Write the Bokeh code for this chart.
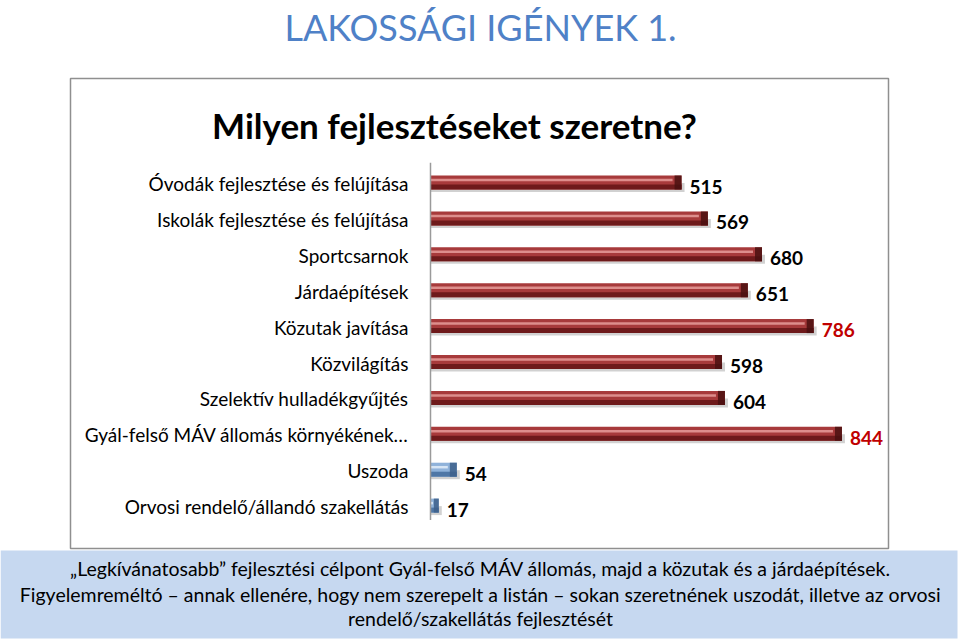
from bokeh.plotting import figure
from bokeh.models import Range1d, ColumnDataSource
from bokeh.embed import file_html
from bokeh.resources import INLINE
from bokeh.core.properties import value

# ---------------- data ----------------
categories = [
    "Óvodák fejlesztése és felújítása",
    "Iskolák fejlesztése és felújítása",
    "Sportcsarnok",
    "Járdaépítések",
    "Közutak javítása",
    "Közvilágítás",
    "Szelektív hulladékgyűjtés",
    "Gyál-felső MÁV állomás környékének…",
    "Uszoda",
    "Orvosi rendelő/állandó szakellátás",
]
values = [515, 569, 680, 651, 786, 598, 604, 844, 54, 17]
groups = ["lista", "lista", "lista", "lista", "lista", "lista", "lista", "lista", "egyéb", "egyéb"]
top_picks = ["Közutak javítása", "Gyál-felső MÁV állomás környékének…"]

page_title = "LAKOSSÁGI IGÉNYEK 1."
chart_title = "Milyen fejlesztéseket szeretne?"
note_lines = [
    "„Legkívánatosabb” fejlesztési célpont Gyál-felső MÁV állomás, majd a közutak és a járdaépítések.",
    "Figyelemreméltó – annak ellenére, hogy nem szerepelt a listán – sokan szeretnének uszodát, illetve az orvosi",
    "rendelő/szakellátás fejlesztését",
]

# ---------------- layout constants ----------------
W, H = 960, 640
X0, KX = 430.0, 0.4875   # pixel of value 0, pixels per unit
Y0, KY = 182.0, 35.9     # pixel of first category, pixels per category


def X(px):
    return (px - X0) / KX


def Y(py):
    return (py - Y0) / KY


PX = 1.0 / KX  # one pixel in x data units
PY = 1.0 / KY  # one pixel in y data units

p = figure(width=W, height=H, output_backend="svg", toolbar_location=None,
           x_axis_type=None, y_axis_type=None,
           x_range=Range1d(X(0), X(W)), y_range=Range1d(Y(H), Y(0)),
           min_border=0)
p.outline_line_color = None
p.background_fill_color = "white"
p.border_fill_color = "white"
p.grid.visible = False

FONT = value("Lato")

# chart box
p.quad(left=[X(70)], right=[X(888)], top=[Y(78)], bottom=[Y(548)],
       fill_color="white", line_color="#8f8f8f", line_width=1.5)
# bottom note box
p.quad(left=[X(0)], right=[X(957)], top=[Y(550)], bottom=[Y(638)],
       fill_color="#c6d8f0", line_color=None)

# titles
p.text(x=[X(480)], y=[Y(26)], text=[page_title], text_font=FONT,
       text_font_size="36px", text_color="#4f81c7", text_align="center",
       text_baseline="middle")
p.text(x=[X(454)], y=[Y(124)], text=[chart_title], text_font=FONT,
       text_font_style="bold", text_font_size="35px", text_color="black",
       text_align="center", text_baseline="middle")

# bars
idx = list(range(len(categories)))
is_main = [g == "lista" for g in groups]
body = ["#a73a3b" if m else "#8fb2da" for m in is_main]
dark = ["#6e1a1b" if m else "#4f77a6" for m in is_main]
light = ["#dd8e8c" if m else "#d6e5f5" for m in is_main]
cap = ["#4a1010" if m else "#3d5f8a" for m in is_main]
lbl_color = ["#c00000" if c in top_picks else "black" for c in categories]
vlabels = [str(v) for v in values]
cap_left = [max(v - 7 * PX, v * 0.4) for v in values]
hl_right = [max(v - 9 * PX, v * 0.3) for v in values]

src = ColumnDataSource(dict(
    y=idx, v=values, cat=categories, body=body, dark=dark, light=light,
    cap=cap, lbl=vlabels, lblc=lbl_color, capl=cap_left, hlr=hl_right,
    ysh=[i + 5 * PY for i in idx], ydk=[i + 4.5 * PY for i in idx],
    yhl=[i - 2.5 * PY for i in idx], vsh=[v + 3 * PX for v in values],
))

# shadow
p.hbar(y="ysh", left=0, right="vsh", height=9 * PY, source=src,
       fill_color="#000000", fill_alpha=0.18, line_color=None)
# body
p.hbar(y="y", left=0, right="v", height=14 * PY, source=src,
       fill_color="body", line_color=None)
# darker lower edge
p.hbar(y="ydk", left=0, right="v", height=5 * PY, source=src,
       fill_color="dark", line_color=None)
# highlight stripe
p.hbar(y="yhl", left=0, right="hlr", height=2.5 * PY, source=src,
       fill_color="light", line_color=None)
# end cap
p.hbar(y="y", left="capl", right="v", height=14 * PY, source=src,
       fill_color="cap", fill_alpha=0.85, line_color=None)

# axis line
p.segment(x0=[0], y0=[-0.55], x1=[0], y1=[len(categories) - 0.6],
          line_color="#9a9a9a", line_width=1.5)

# category labels
p.text(x=0, y="y", text="cat", source=src, x_offset=-22, y_offset=1,
       text_font=FONT, text_font_size="19px", text_color="black",
       text_align="right", text_baseline="middle")

# value labels
p.text(x="v", y="y", text="lbl", source=src, x_offset=8, y_offset=4,
       text_font=FONT, text_font_style="bold", text_font_size="19px",
       text_color="lblc", text_align="left", text_baseline="middle")

# note text
note_y = [568, 594, 618]
p.text(x=[X(480)] * 3, y=[Y(v) for v in note_y], text=note_lines,
       text_font=FONT, text_font_size="19.5px", text_color="black",
       text_align="center", text_baseline="middle")

open("out.html", "w").write(file_html(p, INLINE))
